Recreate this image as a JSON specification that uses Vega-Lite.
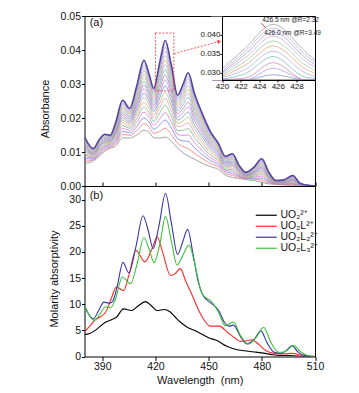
{
"$schema":"https://vega.github.io/schema/vega-lite/v6.json",
"padding":{"left":38.5,"top":10,"right":0,"bottom":0},
"config":{"font":"Liberation Sans","view":{"stroke":"#000","strokeWidth":1},
"axis":{"grid":false,"domain":false,"tickColor":"#000","labelColor":"#111","titleColor":"#111","labelFontSize":10.5,"titleFontSize":11,"titleFontWeight":"normal","labelFlush":false,"labelOverlap":false}},
"datasets":{
"abs":[
{"k":0,"w":380,"a":0.0066},{"k":0,"w":385,"a":0.0074},{"k":0,"w":388.5,"a":0.0088},{"k":0,"w":391.5,"a":0.0103},{"k":0,"w":394.5,"a":0.0111},{"k":0,"w":397.5,"a":0.0117},{"k":0,"w":401.5,"a":0.0142},{"k":0,"w":405.5,"a":0.0141},{"k":0,"w":409.5,"a":0.015},{"k":0,"w":413.5,"a":0.0164},{"k":0,"w":416.5,"a":0.0158},{"k":0,"w":419,"a":0.0142},{"k":0,"w":422.5,"a":0.0141},{"k":0,"w":425.5,"a":0.0144},{"k":0,"w":429,"a":0.0131},{"k":0,"w":432.5,"a":0.0112},{"k":0,"w":435.5,"a":0.0098},{"k":0,"w":438.5,"a":0.0088},{"k":0,"w":442,"a":0.0079},{"k":0,"w":446,"a":0.0068},{"k":0,"w":451,"a":0.0057},{"k":0,"w":455.5,"a":0.0049},{"k":0,"w":459.5,"a":0.0032},{"k":0,"w":463.5,"a":0.0025},{"k":0,"w":467,"a":0.0022},{"k":0,"w":471,"a":0.0019},{"k":0,"w":475.5,"a":0.0016},{"k":0,"w":480,"a":0.0011},{"k":0,"w":484,"a":0.0006},{"k":0,"w":488,"a":0.0005},{"k":0,"w":492.5,"a":0.0003},{"k":0,"w":497.5,"a":0.0002},{"k":0,"w":501.5,"a":0.0002},{"k":0,"w":505,"a":0.0001},{"k":0,"w":510,"a":0},
{"k":1,"w":380,"a":0.0073},{"k":1,"w":385,"a":0.0077},{"k":1,"w":388.5,"a":0.0093},{"k":1,"w":391.5,"a":0.0107},{"k":1,"w":394.5,"a":0.0114},{"k":1,"w":397.5,"a":0.0123},{"k":1,"w":401.5,"a":0.0152},{"k":1,"w":405.5,"a":0.0149},{"k":1,"w":409.5,"a":0.0163},{"k":1,"w":413.5,"a":0.0183},{"k":1,"w":416.5,"a":0.0173},{"k":1,"w":419,"a":0.0155},{"k":1,"w":422.5,"a":0.0161},{"k":1,"w":425.5,"a":0.017},{"k":1,"w":429,"a":0.0151},{"k":1,"w":432.5,"a":0.0126},{"k":1,"w":435.5,"a":0.0116},{"k":1,"w":438.5,"a":0.011},{"k":1,"w":442,"a":0.0096},{"k":1,"w":446,"a":0.0082},{"k":1,"w":451,"a":0.0066},{"k":1,"w":455.5,"a":0.0056},{"k":1,"w":459.5,"a":0.0037},{"k":1,"w":463.5,"a":0.0031},{"k":1,"w":467,"a":0.0026},{"k":1,"w":471,"a":0.0021},{"k":1,"w":475.5,"a":0.002},{"k":1,"w":480,"a":0.0017},{"k":1,"w":484,"a":0.0009},{"k":1,"w":488,"a":0.0006},{"k":1,"w":492.5,"a":0.0004},{"k":1,"w":497.5,"a":0.0005},{"k":1,"w":501.5,"a":0.0003},{"k":1,"w":505,"a":0.0001},{"k":1,"w":510,"a":0},
{"k":2,"w":380,"a":0.008},{"k":2,"w":385,"a":0.008},{"k":2,"w":388.5,"a":0.0097},{"k":2,"w":391.5,"a":0.0112},{"k":2,"w":394.5,"a":0.0118},{"k":2,"w":397.5,"a":0.0129},{"k":2,"w":401.5,"a":0.0161},{"k":2,"w":405.5,"a":0.0156},{"k":2,"w":409.5,"a":0.0175},{"k":2,"w":413.5,"a":0.02},{"k":2,"w":416.5,"a":0.0188},{"k":2,"w":419,"a":0.0167},{"k":2,"w":422.5,"a":0.018},{"k":2,"w":425.5,"a":0.0194},{"k":2,"w":429,"a":0.017},{"k":2,"w":432.5,"a":0.0139},{"k":2,"w":435.5,"a":0.0133},{"k":2,"w":438.5,"a":0.0131},{"k":2,"w":442,"a":0.0113},{"k":2,"w":446,"a":0.0094},{"k":2,"w":451,"a":0.0075},{"k":2,"w":455.5,"a":0.0062},{"k":2,"w":459.5,"a":0.0042},{"k":2,"w":463.5,"a":0.0037},{"k":2,"w":467,"a":0.0029},{"k":2,"w":471,"a":0.0023},{"k":2,"w":475.5,"a":0.0023},{"k":2,"w":480,"a":0.0023},{"k":2,"w":484,"a":0.0012},{"k":2,"w":488,"a":0.0007},{"k":2,"w":492.5,"a":0.0006},{"k":2,"w":497.5,"a":0.0007},{"k":2,"w":501.5,"a":0.0003},{"k":2,"w":505,"a":0.0001},{"k":2,"w":510,"a":0},
{"k":3,"w":380,"a":0.0086},{"k":3,"w":385,"a":0.0083},{"k":3,"w":388.5,"a":0.0101},{"k":3,"w":391.5,"a":0.0116},{"k":3,"w":394.5,"a":0.0121},{"k":3,"w":397.5,"a":0.0134},{"k":3,"w":401.5,"a":0.017},{"k":3,"w":405.5,"a":0.0163},{"k":3,"w":409.5,"a":0.0187},{"k":3,"w":413.5,"a":0.0217},{"k":3,"w":416.5,"a":0.0201},{"k":3,"w":419,"a":0.0179},{"k":3,"w":422.5,"a":0.0198},{"k":3,"w":425.5,"a":0.0216},{"k":3,"w":429,"a":0.0188},{"k":3,"w":432.5,"a":0.0152},{"k":3,"w":435.5,"a":0.0149},{"k":3,"w":438.5,"a":0.015},{"k":3,"w":442,"a":0.0128},{"k":3,"w":446,"a":0.0106},{"k":3,"w":451,"a":0.0083},{"k":3,"w":455.5,"a":0.0068},{"k":3,"w":459.5,"a":0.0046},{"k":3,"w":463.5,"a":0.0043},{"k":3,"w":467,"a":0.0032},{"k":3,"w":471,"a":0.0024},{"k":3,"w":475.5,"a":0.0026},{"k":3,"w":480,"a":0.0029},{"k":3,"w":484,"a":0.0015},{"k":3,"w":488,"a":0.0008},{"k":3,"w":492.5,"a":0.0007},{"k":3,"w":497.5,"a":0.0009},{"k":3,"w":501.5,"a":0.0004},{"k":3,"w":505,"a":0.0002},{"k":3,"w":510,"a":0},
{"k":4,"w":380,"a":0.0092},{"k":4,"w":385,"a":0.0086},{"k":4,"w":388.5,"a":0.0105},{"k":4,"w":391.5,"a":0.0119},{"k":4,"w":394.5,"a":0.0124},{"k":4,"w":397.5,"a":0.0139},{"k":4,"w":401.5,"a":0.0178},{"k":4,"w":405.5,"a":0.017},{"k":4,"w":409.5,"a":0.0198},{"k":4,"w":413.5,"a":0.0232},{"k":4,"w":416.5,"a":0.0214},{"k":4,"w":419,"a":0.019},{"k":4,"w":422.5,"a":0.0215},{"k":4,"w":425.5,"a":0.0238},{"k":4,"w":429,"a":0.0205},{"k":4,"w":432.5,"a":0.0163},{"k":4,"w":435.5,"a":0.0164},{"k":4,"w":438.5,"a":0.0169},{"k":4,"w":442,"a":0.0143},{"k":4,"w":446,"a":0.0118},{"k":4,"w":451,"a":0.0091},{"k":4,"w":455.5,"a":0.0074},{"k":4,"w":459.5,"a":0.005},{"k":4,"w":463.5,"a":0.0048},{"k":4,"w":467,"a":0.0035},{"k":4,"w":471,"a":0.0026},{"k":4,"w":475.5,"a":0.0029},{"k":4,"w":480,"a":0.0034},{"k":4,"w":484,"a":0.0017},{"k":4,"w":488,"a":0.0009},{"k":4,"w":492.5,"a":0.0008},{"k":4,"w":497.5,"a":0.0012},{"k":4,"w":501.5,"a":0.0004},{"k":4,"w":505,"a":0.0002},{"k":4,"w":510,"a":0},
{"k":5,"w":380,"a":0.0097},{"k":5,"w":385,"a":0.0088},{"k":5,"w":388.5,"a":0.0108},{"k":5,"w":391.5,"a":0.0123},{"k":5,"w":394.5,"a":0.0126},{"k":5,"w":397.5,"a":0.0144},{"k":5,"w":401.5,"a":0.0186},{"k":5,"w":405.5,"a":0.0176},{"k":5,"w":409.5,"a":0.0208},{"k":5,"w":413.5,"a":0.0246},{"k":5,"w":416.5,"a":0.0226},{"k":5,"w":419,"a":0.02},{"k":5,"w":422.5,"a":0.0231},{"k":5,"w":425.5,"a":0.0258},{"k":5,"w":429,"a":0.0221},{"k":5,"w":432.5,"a":0.0174},{"k":5,"w":435.5,"a":0.0178},{"k":5,"w":438.5,"a":0.0186},{"k":5,"w":442,"a":0.0156},{"k":5,"w":446,"a":0.0128},{"k":5,"w":451,"a":0.0098},{"k":5,"w":455.5,"a":0.0079},{"k":5,"w":459.5,"a":0.0054},{"k":5,"w":463.5,"a":0.0053},{"k":5,"w":467,"a":0.0038},{"k":5,"w":471,"a":0.0027},{"k":5,"w":475.5,"a":0.0032},{"k":5,"w":480,"a":0.0039},{"k":5,"w":484,"a":0.002},{"k":5,"w":488,"a":0.0009},{"k":5,"w":492.5,"a":0.0009},{"k":5,"w":497.5,"a":0.0014},{"k":5,"w":501.5,"a":0.0004},{"k":5,"w":505,"a":0.0002},{"k":5,"w":510,"a":0},
{"k":6,"w":380,"a":0.0102},{"k":6,"w":385,"a":0.0091},{"k":6,"w":388.5,"a":0.0111},{"k":6,"w":391.5,"a":0.0126},{"k":6,"w":394.5,"a":0.0129},{"k":6,"w":397.5,"a":0.0149},{"k":6,"w":401.5,"a":0.0193},{"k":6,"w":405.5,"a":0.0182},{"k":6,"w":409.5,"a":0.0217},{"k":6,"w":413.5,"a":0.026},{"k":6,"w":416.5,"a":0.0237},{"k":6,"w":419,"a":0.0209},{"k":6,"w":422.5,"a":0.0245},{"k":6,"w":425.5,"a":0.0276},{"k":6,"w":429,"a":0.0235},{"k":6,"w":432.5,"a":0.0184},{"k":6,"w":435.5,"a":0.0191},{"k":6,"w":438.5,"a":0.0202},{"k":6,"w":442,"a":0.0169},{"k":6,"w":446,"a":0.0138},{"k":6,"w":451,"a":0.0105},{"k":6,"w":455.5,"a":0.0084},{"k":6,"w":459.5,"a":0.0058},{"k":6,"w":463.5,"a":0.0058},{"k":6,"w":467,"a":0.0041},{"k":6,"w":471,"a":0.0029},{"k":6,"w":475.5,"a":0.0034},{"k":6,"w":480,"a":0.0043},{"k":6,"w":484,"a":0.0022},{"k":6,"w":488,"a":0.001},{"k":6,"w":492.5,"a":0.001},{"k":6,"w":497.5,"a":0.0016},{"k":6,"w":501.5,"a":0.0005},{"k":6,"w":505,"a":0.0002},{"k":6,"w":510,"a":0},
{"k":7,"w":380,"a":0.0107},{"k":7,"w":385,"a":0.0093},{"k":7,"w":388.5,"a":0.0115},{"k":7,"w":391.5,"a":0.0129},{"k":7,"w":394.5,"a":0.0131},{"k":7,"w":397.5,"a":0.0153},{"k":7,"w":401.5,"a":0.02},{"k":7,"w":405.5,"a":0.0187},{"k":7,"w":409.5,"a":0.0227},{"k":7,"w":413.5,"a":0.0273},{"k":7,"w":416.5,"a":0.0248},{"k":7,"w":419,"a":0.0219},{"k":7,"w":422.5,"a":0.026},{"k":7,"w":425.5,"a":0.0295},{"k":7,"w":429,"a":0.025},{"k":7,"w":432.5,"a":0.0194},{"k":7,"w":435.5,"a":0.0204},{"k":7,"w":438.5,"a":0.0218},{"k":7,"w":442,"a":0.0181},{"k":7,"w":446,"a":0.0148},{"k":7,"w":451,"a":0.0112},{"k":7,"w":455.5,"a":0.0089},{"k":7,"w":459.5,"a":0.0061},{"k":7,"w":463.5,"a":0.0062},{"k":7,"w":467,"a":0.0043},{"k":7,"w":471,"a":0.003},{"k":7,"w":475.5,"a":0.0037},{"k":7,"w":480,"a":0.0048},{"k":7,"w":484,"a":0.0024},{"k":7,"w":488,"a":0.0011},{"k":7,"w":492.5,"a":0.0011},{"k":7,"w":497.5,"a":0.0017},{"k":7,"w":501.5,"a":0.0005},{"k":7,"w":505,"a":0.0002},{"k":7,"w":510,"a":0},
{"k":8,"w":380,"a":0.0112},{"k":8,"w":385,"a":0.0095},{"k":8,"w":388.5,"a":0.0118},{"k":8,"w":391.5,"a":0.0132},{"k":8,"w":394.5,"a":0.0133},{"k":8,"w":397.5,"a":0.0157},{"k":8,"w":401.5,"a":0.0207},{"k":8,"w":405.5,"a":0.0192},{"k":8,"w":409.5,"a":0.0236},{"k":8,"w":413.5,"a":0.0286},{"k":8,"w":416.5,"a":0.0258},{"k":8,"w":419,"a":0.0228},{"k":8,"w":422.5,"a":0.0273},{"k":8,"w":425.5,"a":0.0312},{"k":8,"w":429,"a":0.0263},{"k":8,"w":432.5,"a":0.0203},{"k":8,"w":435.5,"a":0.0216},{"k":8,"w":438.5,"a":0.0233},{"k":8,"w":442,"a":0.0193},{"k":8,"w":446,"a":0.0157},{"k":8,"w":451,"a":0.0118},{"k":8,"w":455.5,"a":0.0094},{"k":8,"w":459.5,"a":0.0065},{"k":8,"w":463.5,"a":0.0066},{"k":8,"w":467,"a":0.0046},{"k":8,"w":471,"a":0.0031},{"k":8,"w":475.5,"a":0.0039},{"k":8,"w":480,"a":0.0052},{"k":8,"w":484,"a":0.0026},{"k":8,"w":488,"a":0.0012},{"k":8,"w":492.5,"a":0.0012},{"k":8,"w":497.5,"a":0.0019},{"k":8,"w":501.5,"a":0.0006},{"k":8,"w":505,"a":0.0002},{"k":8,"w":510,"a":0},
{"k":9,"w":380,"a":0.0116},{"k":9,"w":385,"a":0.0097},{"k":9,"w":388.5,"a":0.012},{"k":9,"w":391.5,"a":0.0135},{"k":9,"w":394.5,"a":0.0136},{"k":9,"w":397.5,"a":0.0161},{"k":9,"w":401.5,"a":0.0213},{"k":9,"w":405.5,"a":0.0197},{"k":9,"w":409.5,"a":0.0244},{"k":9,"w":413.5,"a":0.0297},{"k":9,"w":416.5,"a":0.0268},{"k":9,"w":419,"a":0.0236},{"k":9,"w":422.5,"a":0.0286},{"k":9,"w":425.5,"a":0.0327},{"k":9,"w":429,"a":0.0276},{"k":9,"w":432.5,"a":0.0212},{"k":9,"w":435.5,"a":0.0227},{"k":9,"w":438.5,"a":0.0246},{"k":9,"w":442,"a":0.0204},{"k":9,"w":446,"a":0.0165},{"k":9,"w":451,"a":0.0123},{"k":9,"w":455.5,"a":0.0098},{"k":9,"w":459.5,"a":0.0068},{"k":9,"w":463.5,"a":0.007},{"k":9,"w":467,"a":0.0048},{"k":9,"w":471,"a":0.0033},{"k":9,"w":475.5,"a":0.0041},{"k":9,"w":480,"a":0.0056},{"k":9,"w":484,"a":0.0028},{"k":9,"w":488,"a":0.0012},{"k":9,"w":492.5,"a":0.0013},{"k":9,"w":497.5,"a":0.0021},{"k":9,"w":501.5,"a":0.0006},{"k":9,"w":505,"a":0.0002},{"k":9,"w":510,"a":0},
{"k":10,"w":380,"a":0.0121},{"k":10,"w":385,"a":0.0099},{"k":10,"w":388.5,"a":0.0123},{"k":10,"w":391.5,"a":0.0137},{"k":10,"w":394.5,"a":0.0138},{"k":10,"w":397.5,"a":0.0165},{"k":10,"w":401.5,"a":0.0219},{"k":10,"w":405.5,"a":0.0202},{"k":10,"w":409.5,"a":0.0252},{"k":10,"w":413.5,"a":0.0308},{"k":10,"w":416.5,"a":0.0277},{"k":10,"w":419,"a":0.0244},{"k":10,"w":422.5,"a":0.0298},{"k":10,"w":425.5,"a":0.0343},{"k":10,"w":429,"a":0.0288},{"k":10,"w":432.5,"a":0.0221},{"k":10,"w":435.5,"a":0.0238},{"k":10,"w":438.5,"a":0.026},{"k":10,"w":442,"a":0.0214},{"k":10,"w":446,"a":0.0173},{"k":10,"w":451,"a":0.0129},{"k":10,"w":455.5,"a":0.0102},{"k":10,"w":459.5,"a":0.0071},{"k":10,"w":463.5,"a":0.0074},{"k":10,"w":467,"a":0.005},{"k":10,"w":471,"a":0.0034},{"k":10,"w":475.5,"a":0.0043},{"k":10,"w":480,"a":0.0059},{"k":10,"w":484,"a":0.003},{"k":10,"w":488,"a":0.0013},{"k":10,"w":492.5,"a":0.0014},{"k":10,"w":497.5,"a":0.0022},{"k":10,"w":501.5,"a":0.0006},{"k":10,"w":505,"a":0.0002},{"k":10,"w":510,"a":0},
{"k":11,"w":380,"a":0.0125},{"k":11,"w":385,"a":0.0101},{"k":11,"w":388.5,"a":0.0126},{"k":11,"w":391.5,"a":0.014},{"k":11,"w":394.5,"a":0.014},{"k":11,"w":397.5,"a":0.0168},{"k":11,"w":401.5,"a":0.0225},{"k":11,"w":405.5,"a":0.0206},{"k":11,"w":409.5,"a":0.0259},{"k":11,"w":413.5,"a":0.0319},{"k":11,"w":416.5,"a":0.0286},{"k":11,"w":419,"a":0.0251},{"k":11,"w":422.5,"a":0.0309},{"k":11,"w":425.5,"a":0.0357},{"k":11,"w":429,"a":0.0299},{"k":11,"w":432.5,"a":0.0228},{"k":11,"w":435.5,"a":0.0248},{"k":11,"w":438.5,"a":0.0272},{"k":11,"w":442,"a":0.0224},{"k":11,"w":446,"a":0.0181},{"k":11,"w":451,"a":0.0134},{"k":11,"w":455.5,"a":0.0106},{"k":11,"w":459.5,"a":0.0073},{"k":11,"w":463.5,"a":0.0078},{"k":11,"w":467,"a":0.0052},{"k":11,"w":471,"a":0.0035},{"k":11,"w":475.5,"a":0.0045},{"k":11,"w":480,"a":0.0063},{"k":11,"w":484,"a":0.0032},{"k":11,"w":488,"a":0.0013},{"k":11,"w":492.5,"a":0.0014},{"k":11,"w":497.5,"a":0.0024},{"k":11,"w":501.5,"a":0.0006},{"k":11,"w":505,"a":0.0003},{"k":11,"w":510,"a":0},
{"k":12,"w":380,"a":0.0128},{"k":12,"w":385,"a":0.0103},{"k":12,"w":388.5,"a":0.0128},{"k":12,"w":391.5,"a":0.0142},{"k":12,"w":394.5,"a":0.0141},{"k":12,"w":397.5,"a":0.0171},{"k":12,"w":401.5,"a":0.023},{"k":12,"w":405.5,"a":0.0211},{"k":12,"w":409.5,"a":0.0266},{"k":12,"w":413.5,"a":0.0329},{"k":12,"w":416.5,"a":0.0294},{"k":12,"w":419,"a":0.0258},{"k":12,"w":422.5,"a":0.032},{"k":12,"w":425.5,"a":0.0371},{"k":12,"w":429,"a":0.031},{"k":12,"w":432.5,"a":0.0236},{"k":12,"w":435.5,"a":0.0258},{"k":12,"w":438.5,"a":0.0284},{"k":12,"w":442,"a":0.0233},{"k":12,"w":446,"a":0.0188},{"k":12,"w":451,"a":0.0139},{"k":12,"w":455.5,"a":0.011},{"k":12,"w":459.5,"a":0.0076},{"k":12,"w":463.5,"a":0.0081},{"k":12,"w":467,"a":0.0054},{"k":12,"w":471,"a":0.0036},{"k":12,"w":475.5,"a":0.0047},{"k":12,"w":480,"a":0.0066},{"k":12,"w":484,"a":0.0033},{"k":12,"w":488,"a":0.0014},{"k":12,"w":492.5,"a":0.0015},{"k":12,"w":497.5,"a":0.0025},{"k":12,"w":501.5,"a":0.0007},{"k":12,"w":505,"a":0.0003},{"k":12,"w":510,"a":0},
{"k":13,"w":380,"a":0.0132},{"k":13,"w":385,"a":0.0104},{"k":13,"w":388.5,"a":0.013},{"k":13,"w":391.5,"a":0.0144},{"k":13,"w":394.5,"a":0.0143},{"k":13,"w":397.5,"a":0.0175},{"k":13,"w":401.5,"a":0.0235},{"k":13,"w":405.5,"a":0.0215},{"k":13,"w":409.5,"a":0.0273},{"k":13,"w":413.5,"a":0.0338},{"k":13,"w":416.5,"a":0.0302},{"k":13,"w":419,"a":0.0265},{"k":13,"w":422.5,"a":0.033},{"k":13,"w":425.5,"a":0.0384},{"k":13,"w":429,"a":0.032},{"k":13,"w":432.5,"a":0.0243},{"k":13,"w":435.5,"a":0.0267},{"k":13,"w":438.5,"a":0.0295},{"k":13,"w":442,"a":0.0242},{"k":13,"w":446,"a":0.0195},{"k":13,"w":451,"a":0.0144},{"k":13,"w":455.5,"a":0.0113},{"k":13,"w":459.5,"a":0.0079},{"k":13,"w":463.5,"a":0.0084},{"k":13,"w":467,"a":0.0056},{"k":13,"w":471,"a":0.0037},{"k":13,"w":475.5,"a":0.0049},{"k":13,"w":480,"a":0.0069},{"k":13,"w":484,"a":0.0035},{"k":13,"w":488,"a":0.0014},{"k":13,"w":492.5,"a":0.0016},{"k":13,"w":497.5,"a":0.0027},{"k":13,"w":501.5,"a":0.0007},{"k":13,"w":505,"a":0.0003},{"k":13,"w":510,"a":0},
{"k":14,"w":380,"a":0.0135},{"k":14,"w":385,"a":0.0106},{"k":14,"w":388.5,"a":0.0133},{"k":14,"w":391.5,"a":0.0147},{"k":14,"w":394.5,"a":0.0145},{"k":14,"w":397.5,"a":0.0178},{"k":14,"w":401.5,"a":0.024},{"k":14,"w":405.5,"a":0.0218},{"k":14,"w":409.5,"a":0.0279},{"k":14,"w":413.5,"a":0.0347},{"k":14,"w":416.5,"a":0.0309},{"k":14,"w":419,"a":0.0271},{"k":14,"w":422.5,"a":0.034},{"k":14,"w":425.5,"a":0.0397},{"k":14,"w":429,"a":0.033},{"k":14,"w":432.5,"a":0.025},{"k":14,"w":435.5,"a":0.0276},{"k":14,"w":438.5,"a":0.0306},{"k":14,"w":442,"a":0.0251},{"k":14,"w":446,"a":0.0202},{"k":14,"w":451,"a":0.0149},{"k":14,"w":455.5,"a":0.0117},{"k":14,"w":459.5,"a":0.0081},{"k":14,"w":463.5,"a":0.0087},{"k":14,"w":467,"a":0.0058},{"k":14,"w":471,"a":0.0038},{"k":14,"w":475.5,"a":0.0051},{"k":14,"w":480,"a":0.0072},{"k":14,"w":484,"a":0.0036},{"k":14,"w":488,"a":0.0015},{"k":14,"w":492.5,"a":0.0016},{"k":14,"w":497.5,"a":0.0028},{"k":14,"w":501.5,"a":0.0007},{"k":14,"w":505,"a":0.0003},{"k":14,"w":510,"a":0},
{"k":15,"w":380,"a":0.0139},{"k":15,"w":385,"a":0.0108},{"k":15,"w":388.5,"a":0.0135},{"k":15,"w":391.5,"a":0.0149},{"k":15,"w":394.5,"a":0.0146},{"k":15,"w":397.5,"a":0.018},{"k":15,"w":401.5,"a":0.0244},{"k":15,"w":405.5,"a":0.0222},{"k":15,"w":409.5,"a":0.0285},{"k":15,"w":413.5,"a":0.0356},{"k":15,"w":416.5,"a":0.0316},{"k":15,"w":419,"a":0.0277},{"k":15,"w":422.5,"a":0.0349},{"k":15,"w":425.5,"a":0.0408},{"k":15,"w":429,"a":0.0339},{"k":15,"w":432.5,"a":0.0256},{"k":15,"w":435.5,"a":0.0284},{"k":15,"w":438.5,"a":0.0316},{"k":15,"w":442,"a":0.0259},{"k":15,"w":446,"a":0.0208},{"k":15,"w":451,"a":0.0153},{"k":15,"w":455.5,"a":0.012},{"k":15,"w":459.5,"a":0.0083},{"k":15,"w":463.5,"a":0.009},{"k":15,"w":467,"a":0.0059},{"k":15,"w":471,"a":0.0039},{"k":15,"w":475.5,"a":0.0052},{"k":15,"w":480,"a":0.0075},{"k":15,"w":484,"a":0.0038},{"k":15,"w":488,"a":0.0015},{"k":15,"w":492.5,"a":0.0017},{"k":15,"w":497.5,"a":0.0029},{"k":15,"w":501.5,"a":0.0008},{"k":15,"w":505,"a":0.0003},{"k":15,"w":510,"a":0},
{"k":16,"w":380,"a":0.0141},{"k":16,"w":385,"a":0.0109},{"k":16,"w":388.5,"a":0.0136},{"k":16,"w":391.5,"a":0.015},{"k":16,"w":394.5,"a":0.0148},{"k":16,"w":397.5,"a":0.0183},{"k":16,"w":401.5,"a":0.0248},{"k":16,"w":405.5,"a":0.0225},{"k":16,"w":409.5,"a":0.029},{"k":16,"w":413.5,"a":0.0363},{"k":16,"w":416.5,"a":0.0322},{"k":16,"w":419,"a":0.0282},{"k":16,"w":422.5,"a":0.0357},{"k":16,"w":425.5,"a":0.0418},{"k":16,"w":429,"a":0.0347},{"k":16,"w":432.5,"a":0.0262},{"k":16,"w":435.5,"a":0.0291},{"k":16,"w":438.5,"a":0.0324},{"k":16,"w":442,"a":0.0265},{"k":16,"w":446,"a":0.0213},{"k":16,"w":451,"a":0.0156},{"k":16,"w":455.5,"a":0.0122},{"k":16,"w":459.5,"a":0.0085},{"k":16,"w":463.5,"a":0.0093},{"k":16,"w":467,"a":0.0061},{"k":16,"w":471,"a":0.0039},{"k":16,"w":475.5,"a":0.0054},{"k":16,"w":480,"a":0.0078},{"k":16,"w":484,"a":0.0039},{"k":16,"w":488,"a":0.0016},{"k":16,"w":492.5,"a":0.0017},{"k":16,"w":497.5,"a":0.003},{"k":16,"w":501.5,"a":0.0008},{"k":16,"w":505,"a":0.0003},{"k":16,"w":510,"a":0},
{"k":17,"w":380,"a":0.0144},{"k":17,"w":385,"a":0.011},{"k":17,"w":388.5,"a":0.0138},{"k":17,"w":391.5,"a":0.0152},{"k":17,"w":394.5,"a":0.0149},{"k":17,"w":397.5,"a":0.0185},{"k":17,"w":401.5,"a":0.0252},{"k":17,"w":405.5,"a":0.0228},{"k":17,"w":409.5,"a":0.0295},{"k":17,"w":413.5,"a":0.037},{"k":17,"w":416.5,"a":0.0328},{"k":17,"w":419,"a":0.0287},{"k":17,"w":422.5,"a":0.0365},{"k":17,"w":425.5,"a":0.0428},{"k":17,"w":429,"a":0.0355},{"k":17,"w":432.5,"a":0.0267},{"k":17,"w":435.5,"a":0.0298},{"k":17,"w":438.5,"a":0.0333},{"k":17,"w":442,"a":0.0272},{"k":17,"w":446,"a":0.0218},{"k":17,"w":451,"a":0.016},{"k":17,"w":455.5,"a":0.0125},{"k":17,"w":459.5,"a":0.0087},{"k":17,"w":463.5,"a":0.0095},{"k":17,"w":467,"a":0.0062},{"k":17,"w":471,"a":0.004},{"k":17,"w":475.5,"a":0.0055},{"k":17,"w":480,"a":0.008},{"k":17,"w":484,"a":0.004},{"k":17,"w":488,"a":0.0016},{"k":17,"w":492.5,"a":0.0018},{"k":17,"w":497.5,"a":0.0031},{"k":17,"w":501.5,"a":0.0008},{"k":17,"w":505,"a":0.0003},{"k":17,"w":510,"a":0}
],
"eps":[
{"s":"UO₂²⁺","w":380,"e":4.2},{"s":"UO₂²⁺","w":383,"e":4.4},{"s":"UO₂²⁺","w":386,"e":5.0},{"s":"UO₂²⁺","w":389,"e":5.8},{"s":"UO₂²⁺","w":392,"e":6.6},{"s":"UO₂²⁺","w":395,"e":7.0},{"s":"UO₂²⁺","w":398,"e":7.5},{"s":"UO₂²⁺","w":402,"e":9.1},{"s":"UO₂²⁺","w":406.5,"e":8.8},{"s":"UO₂²⁺","w":410,"e":9.6},{"s":"UO₂²⁺","w":414.4,"e":10.5},{"s":"UO₂²⁺","w":418,"e":9.6},{"s":"UO₂²⁺","w":421,"e":8.8},{"s":"UO₂²⁺","w":425,"e":9.0},{"s":"UO₂²⁺","w":428,"e":8.6},{"s":"UO₂²⁺","w":431,"e":7.6},{"s":"UO₂²⁺","w":434,"e":6.6},{"s":"UO₂²⁺","w":438,"e":5.6},{"s":"UO₂²⁺","w":442,"e":5.0},{"s":"UO₂²⁺","w":446,"e":4.3},{"s":"UO₂²⁺","w":450,"e":3.6},{"s":"UO₂²⁺","w":455,"e":3.0},{"s":"UO₂²⁺","w":460,"e":2.0},{"s":"UO₂²⁺","w":465,"e":1.4},{"s":"UO₂²⁺","w":470,"e":1.1},{"s":"UO₂²⁺","w":475,"e":0.9},{"s":"UO₂²⁺","w":480,"e":0.7},{"s":"UO₂²⁺","w":485,"e":0.4},{"s":"UO₂²⁺","w":490,"e":0.2},{"s":"UO₂²⁺","w":495,"e":0.2},{"s":"UO₂²⁺","w":500,"e":0.1},{"s":"UO₂²⁺","w":510,"e":0},
{"s":"UO₂L²⁺","w":380,"e":4.7},{"s":"UO₂L²⁺","w":383,"e":5.8},{"s":"UO₂L²⁺","w":386,"e":7.0},{"s":"UO₂L²⁺","w":389,"e":7.6},{"s":"UO₂L²⁺","w":392,"e":8.5},{"s":"UO₂L²⁺","w":395,"e":11.0},{"s":"UO₂L²⁺","w":398,"e":13.3},{"s":"UO₂L²⁺","w":402,"e":12.6},{"s":"UO₂L²⁺","w":405,"e":15.5},{"s":"UO₂L²⁺","w":409,"e":20.3},{"s":"UO₂L²⁺","w":414,"e":18.1},{"s":"UO₂L²⁺","w":418,"e":20.5},{"s":"UO₂L²⁺","w":421,"e":22.9},{"s":"UO₂L²⁺","w":424,"e":20.0},{"s":"UO₂L²⁺","w":428.5,"e":15.5},{"s":"UO₂L²⁺","w":431,"e":15.8},{"s":"UO₂L²⁺","w":434,"e":16.8},{"s":"UO₂L²⁺","w":437,"e":14.5},{"s":"UO₂L²⁺","w":440.6,"e":11.8},{"s":"UO₂L²⁺","w":446,"e":7.8},{"s":"UO₂L²⁺","w":451,"e":5.8},{"s":"UO₂L²⁺","w":456,"e":5.8},{"s":"UO₂L²⁺","w":461,"e":4.5},{"s":"UO₂L²⁺","w":465,"e":3.5},{"s":"UO₂L²⁺","w":468,"e":2.9},{"s":"UO₂L²⁺","w":471.5,"e":3.0},{"s":"UO₂L²⁺","w":474.5,"e":3.2},{"s":"UO₂L²⁺","w":478,"e":2.4},{"s":"UO₂L²⁺","w":482,"e":1.2},{"s":"UO₂L²⁺","w":487,"e":0.6},{"s":"UO₂L²⁺","w":492,"e":0.5},{"s":"UO₂L²⁺","w":497,"e":0.6},{"s":"UO₂L²⁺","w":502,"e":0.3},{"s":"UO₂L²⁺","w":510,"e":0},
{"s":"UO₂L₂²⁺","w":380,"e":9.7},{"s":"UO₂L₂²⁺","w":382.5,"e":8.0},{"s":"UO₂L₂²⁺","w":385,"e":7.2},{"s":"UO₂L₂²⁺","w":388,"e":8.8},{"s":"UO₂L₂²⁺","w":391,"e":10.4},{"s":"UO₂L₂²⁺","w":394,"e":10.2},{"s":"UO₂L₂²⁺","w":396,"e":10.6},{"s":"UO₂L₂²⁺","w":398.5,"e":13.5},{"s":"UO₂L₂²⁺","w":401.7,"e":18.0},{"s":"UO₂L₂²⁺","w":405,"e":16.0},{"s":"UO₂L₂²⁺","w":409,"e":21.0},{"s":"UO₂L₂²⁺","w":413,"e":26.9},{"s":"UO₂L₂²⁺","w":416,"e":24.0},{"s":"UO₂L₂²⁺","w":418.7,"e":20.6},{"s":"UO₂L₂²⁺","w":422,"e":25.0},{"s":"UO₂L₂²⁺","w":425.7,"e":31.2},{"s":"UO₂L₂²⁺","w":429,"e":25.5},{"s":"UO₂L₂²⁺","w":432.5,"e":19.5},{"s":"UO₂L₂²⁺","w":435,"e":21.5},{"s":"UO₂L₂²⁺","w":438.2,"e":24.3},{"s":"UO₂L₂²⁺","w":441,"e":20.0},{"s":"UO₂L₂²⁺","w":444,"e":14.5},{"s":"UO₂L₂²⁺","w":447,"e":11.6},{"s":"UO₂L₂²⁺","w":451,"e":10.3},{"s":"UO₂L₂²⁺","w":455.7,"e":8.8},{"s":"UO₂L₂²⁺","w":459,"e":6.5},{"s":"UO₂L₂²⁺","w":461.5,"e":5.8},{"s":"UO₂L₂²⁺","w":464,"e":6.0},{"s":"UO₂L₂²⁺","w":468,"e":3.8},{"s":"UO₂L₂²⁺","w":471.6,"e":2.4},{"s":"UO₂L₂²⁺","w":475.5,"e":3.2},{"s":"UO₂L₂²⁺","w":479.5,"e":4.9},{"s":"UO₂L₂²⁺","w":483,"e":2.6},{"s":"UO₂L₂²⁺","w":487,"e":0.8},{"s":"UO₂L₂²⁺","w":491,"e":0.6},{"s":"UO₂L₂²⁺","w":494,"e":1.2},{"s":"UO₂L₂²⁺","w":497,"e":2.1},{"s":"UO₂L₂²⁺","w":500,"e":1.0},{"s":"UO₂L₂²⁺","w":503,"e":0.3},{"s":"UO₂L₂²⁺","w":510,"e":0},
{"s":"UO₂L₃²⁺","w":380,"e":9.8},{"s":"UO₂L₃²⁺","w":382.5,"e":8.0},{"s":"UO₂L₃²⁺","w":385.3,"e":6.9},{"s":"UO₂L₃²⁺","w":388.5,"e":8.0},{"s":"UO₂L₃²⁺","w":391.9,"e":9.5},{"s":"UO₂L₃²⁺","w":394.7,"e":9.3},{"s":"UO₂L₃²⁺","w":397.5,"e":11.0},{"s":"UO₂L₃²⁺","w":401.3,"e":15.2},{"s":"UO₂L₃²⁺","w":406,"e":13.9},{"s":"UO₂L₃²⁺","w":409.5,"e":17.5},{"s":"UO₂L₃²⁺","w":413.5,"e":22.7},{"s":"UO₂L₃²⁺","w":416.5,"e":20.5},{"s":"UO₂L₃²⁺","w":419.2,"e":17.9},{"s":"UO₂L₃²⁺","w":422.5,"e":21.5},{"s":"UO₂L₃²⁺","w":425.7,"e":26.8},{"s":"UO₂L₃²⁺","w":429,"e":22.0},{"s":"UO₂L₃²⁺","w":432.2,"e":17.5},{"s":"UO₂L₃²⁺","w":435,"e":19.0},{"s":"UO₂L₃²⁺","w":439,"e":21.3},{"s":"UO₂L₃²⁺","w":442,"e":18.0},{"s":"UO₂L₃²⁺","w":446.3,"e":12.0},{"s":"UO₂L₃²⁺","w":451.9,"e":10.4},{"s":"UO₂L₃²⁺","w":455.5,"e":8.5},{"s":"UO₂L₃²⁺","w":459.4,"e":5.9},{"s":"UO₂L₃²⁺","w":464.1,"e":6.6},{"s":"UO₂L₃²⁺","w":468,"e":4.0},{"s":"UO₂L₃²⁺","w":472.5,"e":2.4},{"s":"UO₂L₃²⁺","w":476.5,"e":3.5},{"s":"UO₂L₃²⁺","w":481,"e":5.6},{"s":"UO₂L₃²⁺","w":485,"e":2.8},{"s":"UO₂L₃²⁺","w":489.5,"e":0.8},{"s":"UO₂L₃²⁺","w":493,"e":0.9},{"s":"UO₂L₃²⁺","w":498,"e":2.1},{"s":"UO₂L₃²⁺","w":501.5,"e":1.0},{"s":"UO₂L₃²⁺","w":505,"e":0.3},{"s":"UO₂L₃²⁺","w":510,"e":0}
]},
"resolve":{"scale":{"color":"independent"}},
"spacing":0,
"bounds":"flush",
"vconcat":[
{"width":230.5,"height":170,
 "resolve":{"scale":{"x":"independent","y":"independent","color":"independent"},"axis":{"x":"independent","y":"independent"}},
 "layer":[
  {"layer":[
   {"data":{"name":"abs"},"transform":[{"filter":"datum.k < 17"}],
    "mark":{"type":"line","interpolate":"monotone","strokeWidth":0.8,"clip":true},
    "encoding":{
     "x":{"field":"w","type":"quantitative","scale":{"domain":[380,510],"nice":false,"zero":false},
          "axis":{"orient":"bottom","values":[390,420,450,480,510],"tickCount":10,"labels":false,"title":null,"tickSize":-4}},
     "y":{"field":"a","type":"quantitative","scale":{"domain":[0,0.05],"nice":false},
          "axis":{"orient":"left","values":[0,0.01,0.02,0.03,0.04,0.05],"tickCount":10,"format":".2f","title":"Absorbance","tickSize":3,"labelPadding":1,"labelOverlap":false,"labelBound":false,"titleX":-34.5,"titleY":92.5}},
     "color":{"field":"k","type":"ordinal","legend":null,
       "scale":{"range":["#8c8c8c","#f07878","#7878e8","#d878d8","#78b878","#e898b8","#b8b870","#7090c8","#b090e0","#c878a8","#70b8b8","#a8a8e8","#e0a070","#90c890","#c8a0d8","#9898d8","#b8a8d8","#503c96"]}}}},
   {"data":{"name":"abs"},"transform":[{"filter":"datum.k == 17"}],
    "mark":{"type":"line","interpolate":"monotone","strokeWidth":1.6,"color":"#55449c","clip":true},
    "encoding":{"x":{"field":"w","type":"quantitative"},"y":{"field":"a","type":"quantitative"}}}
  ]},
  {"layer":[
   {"data":{"name":"abs"},"transform":[{"filter":"datum.w >= 419 && datum.w <= 433"}],
    "mark":{"type":"line","interpolate":"monotone","strokeWidth":0.7,"clip":true},
    "encoding":{
     "x":{"field":"w","type":"quantitative","scale":{"domain":[420,430],"range":[137.5,230.5],"nice":false,"zero":false},
          "axis":{"orient":"bottom","offset":-106,"values":[420,422,424,426,428],"tickCount":10,"title":null,"tickSize":2,"labelPadding":0,"labelFontSize":8,"domain":true,"domainColor":"#000","zindex":2}},
     "y":{"field":"a","type":"quantitative","scale":{"domain":[0.0281,0.045],"range":[64,0],"nice":false,"zero":false,"clamp":true},
          "axis":{"orient":"left","offset":-137.5,"values":[0.03,0.035,0.04],"tickCount":10,"format":".3f","title":null,"tickSize":2,"labelPadding":0,"labelFontSize":8,"labelOverlap":false,"domain":true,"domainColor":"#000","zindex":2}},
     "color":{"field":"k","type":"ordinal","legend":null,
       "scale":{"range":["#8c8c8c","#f07878","#7878e8","#d878d8","#78b878","#e898b8","#b8b870","#7090c8","#b090e0","#c878a8","#70b8b8","#a8a8e8","#e0a070","#90c890","#c8a0d8","#9898d8","#b8a8d8","#9a9a9a"]}}}},
   {"data":{"values":[{"x1":418.8,"x2":420,"y1":0.0281,"y2":0.04483}]},
    "mark":{"type":"rect","fill":"#fff","stroke":null},
    "encoding":{"x":{"field":"x1","type":"quantitative"},"x2":{"field":"x2"},"y":{"field":"y1","type":"quantitative"},"y2":{"field":"y2"}}},
   {"data":{"values":[{"x1":424.2,"y1":0.0431,"x2":424.75,"y2":0.0418}]},
    "mark":{"type":"rule","stroke":"#e83030","strokeWidth":0.9},
    "encoding":{"x":{"field":"x1","type":"quantitative"},"x2":{"field":"x2"},"y":{"field":"y1","type":"quantitative"},"y2":{"field":"y2"}}},
   {"data":{"values":[{"x":424.33,"y":0.04394,"t":"426.5 nm @R=2.32"},{"x":424.55,"y":0.04059,"t":"426.0 nm @R=3.49"}]},
    "mark":{"type":"text","align":"left","baseline":"middle","fontSize":6.5,"color":"#222"},
    "encoding":{"x":{"field":"x","type":"quantitative"},"y":{"field":"y","type":"quantitative"},"text":{"field":"t"}}}
  ]},
  {"layer":[
   {"data":{"values":[{"x1":420,"x2":430.4,"y1":0.028,"y2":0.045}]},
    "mark":{"type":"rect","filled":false,"stroke":"#e83030","strokeWidth":0.8,"strokeDash":[2,1.5]},
    "encoding":{"x":{"field":"x1","type":"quantitative","scale":{"domain":[380,510],"nice":false,"zero":false},"axis":null},"x2":{"field":"x2"},"y":{"field":"y1","type":"quantitative","scale":{"domain":[0,0.05],"nice":false},"axis":null},"y2":{"field":"y2"}}},
   {"data":{"values":[{"x1":430.4,"y1":0.0389,"x2":456.5,"y2":0.0426}]},
    "mark":{"type":"rule","stroke":"#e83030","strokeWidth":0.8,"strokeDash":[2,1.5]},
    "encoding":{"x":{"field":"x1","type":"quantitative"},"x2":{"field":"x2"},"y":{"field":"y1","type":"quantitative"},"y2":{"field":"y2"}}},
   {"data":{"values":[{"x":456,"y":0.0425}]},
    "mark":{"type":"point","shape":"triangle-right","angle":-15,"filled":true,"color":"#e83030","size":16,"opacity":1},
    "encoding":{"x":{"field":"x","type":"quantitative"},"y":{"field":"y","type":"quantitative"}}},
   {"data":{"values":[{"x":382.9,"y":0.048,"t":"(a)"}]},
    "mark":{"type":"text","align":"left","baseline":"middle","fontSize":11,"color":"#111"},
    "encoding":{"x":{"field":"x","type":"quantitative"},"y":{"field":"y","type":"quantitative"},"text":{"field":"t"}}}
  ]}
 ]},
{"width":230.5,"height":170.5,
 "layer":[
  {"data":{"name":"eps"},
   "mark":{"type":"line","interpolate":"monotone","strokeWidth":1.1,"clip":true},
   "encoding":{
    "x":{"field":"w","type":"quantitative","scale":{"domain":[380,510],"nice":false,"zero":false},
         "axis":{"values":[390,420,450,480,510],"tickCount":10,"title":"Wavelength\u00a0 (nm)","tickSize":4,"labelPadding":1,"titlePadding":2}},
    "y":{"field":"e","type":"quantitative","scale":{"domain":[0,32.6],"nice":false},
         "axis":{"values":[0,5,10,15,20,25,30],"tickCount":10,"title":"Molarity absorptivity","tickSize":3,"labelPadding":1,"labelOverlap":false,"titleX":-25.5,"titleY":92.5}},
    "color":{"field":"s","type":"nominal",
      "scale":{"domain":["UO₂²⁺","UO₂L²⁺","UO₂L₂²⁺","UO₂L₃²⁺"],"range":["#000000","#ff2a2a","#3b33a8","#3cc43c"]},
      "legend":{"orient":"none","legendX":176.5,"legendY":24,"title":null,"symbolType":"M-3,0H3","symbolSize":49,"symbolStrokeWidth":1.2,"labelFontSize":10.5,"labelOffset":9,"rowPadding":0,"labelColor":"#111"}}}},
  {"data":{"values":[{"x":382.9,"y":30.65,"t":"(b)"}]},
   "mark":{"type":"text","align":"left","baseline":"middle","fontSize":11,"color":"#111"},
   "encoding":{"x":{"field":"x","type":"quantitative"},"y":{"field":"y","type":"quantitative"},"text":{"field":"t"}}}
 ]}
]
}
